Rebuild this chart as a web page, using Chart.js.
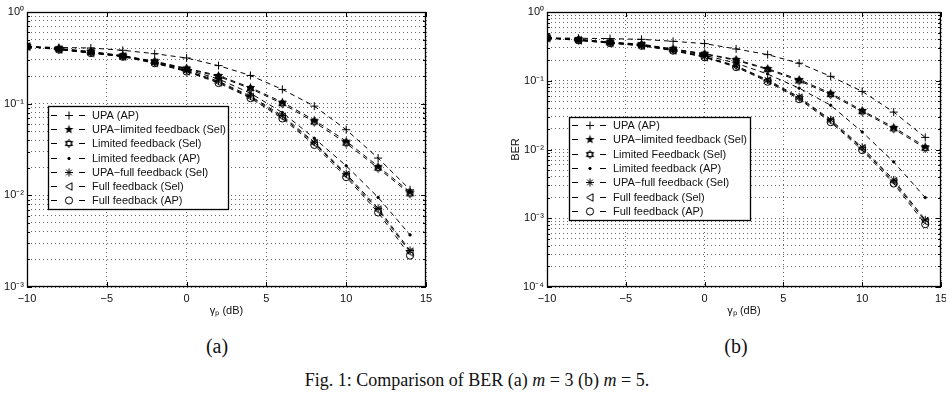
<!DOCTYPE html>
<html>
<head>
<meta charset="utf-8">
<script src="https://cdn.jsdelivr.net/npm/chart.js@4.4.0/dist/chart.umd.min.js"></script>
<style>
  body { margin: 0; background: #fff; width: 946px; height: 406px; overflow: hidden; position: relative; }
  #cajaA { position: absolute; left: 0; top: 0; width: 440px; height: 330px; }
  #cajaB { position: absolute; left: 480px; top: 0; width: 466px; height: 330px; }
  .subtitulo { position: absolute; font-family: "Liberation Serif", serif; font-size: 20px; color: #111; transform: translate(-50%, -50%); }
  #pie { position: absolute; left: 477px; top: 380px; transform: translate(-50%, -50%); font-family: "Liberation Serif", serif; font-size: 18px; color: #111; white-space: nowrap; }
</style>
</head>
<body>
<div id="cajaA"><canvas id="graficaA" width="440" height="330"></canvas></div>
<div id="cajaB"><canvas id="graficaB" width="466" height="330"></canvas></div>
<div class="subtitulo" style="left:217px; top:346px;">(a)</div>
<div class="subtitulo" style="left:736px; top:346px;">(b)</div>
<div id="pie">Fig. 1: Comparison of BER (a) <i>m</i> = 3 (b) <i>m</i> = 5.</div>

<script>
// =========================
//   Datos
// =========================
const gammaDb = [-10, -8, -6, -4, -2, 0, 2, 4, 6, 8, 10, 12, 14];
const xTicks = [-10, -5, 0, 5, 10, 15];
const decadasA = [1e-3, 1e-2, 1e-1, 1];
const decadasB = [1e-4, 1e-3, 1e-2, 1e-1, 1];

const etiquetasA = ["UPA (AP)", "UPA\u2212limited feedback (Sel)", "Limited feedback (Sel)", "Limited feedback (AP)",
    "UPA\u2212full feedback (Sel)", "Full feedback (Sel)", "Full feedback (AP)"];
const etiquetasB = ["UPA (AP)", "UPA\u2212limited feedback (Sel)", "Limited Feedback (Sel)", "Limited feedback (AP)",
    "UPA\u2212full feedback (Sel)", "Full feedback (Sel)", "Full feedback (AP)"];

// (a) m = 3
const upaApA      = [0.42, 0.41, 0.405, 0.382, 0.351, 0.315, 0.26, 0.203, 0.143, 0.094, 0.052, 0.0255, 0.0115];
const upaLimSelA  = [0.42, 0.40, 0.37, 0.335, 0.29, 0.243, 0.203, 0.15, 0.104, 0.066, 0.039, 0.0207, 0.0109];
const limSelA     = [0.42, 0.398, 0.367, 0.332, 0.287, 0.24, 0.198, 0.146, 0.1, 0.063, 0.037, 0.0198, 0.0104];
const limApA      = [0.42, 0.396, 0.364, 0.33, 0.284, 0.236, 0.186, 0.13, 0.08, 0.042, 0.021, 0.0095, 0.0037];
const upaFullSelA = [0.42, 0.392, 0.36, 0.33, 0.282, 0.23, 0.176, 0.121, 0.074, 0.038, 0.0172, 0.0072, 0.0025];
const fullSelA    = [0.42, 0.39, 0.358, 0.328, 0.279, 0.227, 0.172, 0.118, 0.0716, 0.037, 0.0166, 0.0069, 0.0024];
const fullApA     = [0.42, 0.388, 0.356, 0.325, 0.276, 0.224, 0.168, 0.115, 0.069, 0.0355, 0.0158, 0.0065, 0.0022];

// (b) m = 5
const upaApB      = [0.42, 0.415, 0.41, 0.40, 0.375, 0.347, 0.29, 0.24, 0.18, 0.116, 0.07, 0.035, 0.015];
const upaLimSelB  = [0.42, 0.40, 0.366, 0.34, 0.29, 0.248, 0.203, 0.15, 0.104, 0.066, 0.037, 0.021, 0.011];
const limSelB     = [0.42, 0.398, 0.362, 0.336, 0.286, 0.244, 0.198, 0.146, 0.1, 0.063, 0.0355, 0.02, 0.0104];
const limApB      = [0.42, 0.395, 0.36, 0.33, 0.283, 0.235, 0.18, 0.125, 0.078, 0.044, 0.018, 0.0066, 0.002];
const upaFullSelB = [0.42, 0.39, 0.357, 0.327, 0.28, 0.225, 0.165, 0.103, 0.058, 0.027, 0.0108, 0.0036, 0.00095];
const fullSelB    = [0.42, 0.388, 0.355, 0.325, 0.277, 0.222, 0.162, 0.1, 0.056, 0.026, 0.0103, 0.0034, 0.0009];
const fullApB     = [0.42, 0.386, 0.352, 0.322, 0.274, 0.219, 0.158, 0.097, 0.054, 0.025, 0.0098, 0.0032, 0.00082];

const FUENTE = "Liberation Sans";

// =========================
//   Marcadores
// =========================
function marcaCanvas(dibujar, tam) {
    const c = document.createElement("canvas");
    c.width = tam;
    c.height = tam;
    const g = c.getContext("2d");
    g.strokeStyle = "#000";
    g.fillStyle = "#000";
    g.lineWidth = 1;
    dibujar(g, tam / 2);
    return c;
}

const estrellaRellena = marcaCanvas((g, m) => {
    g.beginPath();
    for (let k = 0; k < 10; k++) {
        const r = k % 2 === 0 ? 4.8 : 2.0;
        const a = -Math.PI / 2 + k * Math.PI / 5;
        g.lineTo(m + r * Math.cos(a), m + r * Math.sin(a));
    }
    g.closePath();
    g.fill();
}, 11);

const hexagrama = marcaCanvas((g, m) => {
    [-Math.PI / 2, Math.PI / 2].forEach(rot => {
        g.beginPath();
        for (let k = 0; k < 3; k++) {
            const a = rot + k * 2 * Math.PI / 3;
            g.lineTo(m + 4.2 * Math.cos(a), m + 4.2 * Math.sin(a));
        }
        g.closePath();
        g.stroke();
    });
}, 11);

const trianguloIzq = marcaCanvas((g, m) => {
    g.beginPath();
    g.moveTo(m - 3.5, m);
    g.lineTo(m + 3, m - 3.8);
    g.lineTo(m + 3, m + 3.8);
    g.closePath();
    g.stroke();
}, 11);

const estilos = [
    { pointStyle: "cross", pointRadius: 4 },
    { pointStyle: estrellaRellena, pointRadius: 4 },
    { pointStyle: hexagrama, pointRadius: 4 },
    { pointStyle: "circle", pointRadius: 1.2, pointBackgroundColor: "#000" },
    { pointStyle: "star", pointRadius: 4 },
    { pointStyle: trianguloIzq, pointRadius: 4 },
    { pointStyle: "circle", pointRadius: 3.6 }
];

function construirDatasets(series, etiquetas) {
    return series.map((valores, i) => Object.assign({
        label: etiquetas[i],
        data: gammaDb.map((x, j) => ({ x: x, y: valores[j] })),
        borderColor: "#000",
        borderWidth: 1,
        borderDash: [5, 4],
        pointBorderColor: "#000",
        pointBackgroundColor: "rgba(0,0,0,0)",
        pointBorderWidth: 1,
        fill: false,
        tension: 0
    }, estilos[i]));
}

// =========================
//   Escalas
// =========================
const superindices = { "0": "\u2070", "1": "\u00B9", "2": "\u00B2", "3": "\u00B3", "4": "\u2074", "-": "\u207B" };

function esDecada(v) {
    const e = Math.log10(v);
    return Math.abs(e - Math.round(e)) < 1e-9;
}

function etiquetaDecada(v) {
    if (!esDecada(v)) return "";
    const e = String(Math.round(Math.log10(v)));
    return "10" + e.split("").map(c => superindices[c]).join("");
}

function ticksLog(decadas) {
    const lista = [];
    for (let i = 0; i < decadas.length - 1; i++) {
        for (let k = 1; k < 10; k++) lista.push(decadas[i] * k);
    }
    lista.push(decadas[decadas.length - 1]);
    return lista;
}

function configEscalas(decadas, tituloY, anchoY) {
    return {
        x: {
            type: "linear",
            min: -10,
            max: 15,
            afterBuildTicks: s => { s.ticks = xTicks.map(v => ({ value: v })); },
            afterFit: s => { s.height = 43; s.paddingLeft = 0; s.paddingRight = 0; },
            ticks: {
                autoSkip: false, maxRotation: 0, padding: 5, color: "#111",
                font: { family: FUENTE, size: 11 },
                callback: v => String(v).replace("-", "\u2212")
            },
            grid: { color: "rgba(0,0,0,0.6)", lineWidth: 1, drawTicks: false },
            border: { display: false, dash: [1, 3] },
            title: { display: true, text: "\u03B3\u209A (dB)", color: "#111", font: { family: FUENTE, size: 11 }, padding: { top: 2, bottom: 12 } }
        },
        y: {
            type: "logarithmic",
            min: decadas[0],
            max: decadas[decadas.length - 1],
            afterBuildTicks: s => { s.ticks = ticksLog(decadas).map(v => ({ value: v })); },
            afterFit: s => { s.width = anchoY; s.paddingTop = 0; s.paddingBottom = 0; },
            ticks: {
                autoSkip: false, padding: 3, color: "#111",
                font: { family: FUENTE, size: 11 },
                callback: v => etiquetaDecada(v)
            },
            grid: { color: "rgba(0,0,0,0.6)", lineWidth: 1, drawTicks: false },
            border: { display: false, dash: [1, 3] },
            title: { display: !!tituloY, text: tituloY, color: "#111", font: { family: FUENTE, size: 11 }, padding: { top: 29, bottom: 0 } }
        }
    };
}

// =========================
//   Marco y leyenda estilo Matlab
// =========================
const marcoMatlab = {
    id: "marcoMatlab",
    afterDraw(chart, args, opts) {
        const ctx = chart.ctx;
        const { left, top, right, bottom } = chart.chartArea;
        const ys = chart.scales.y;
        const xs = chart.scales.x;
        ctx.save();
        ctx.setLineDash([]);
        ctx.strokeStyle = "#000";
        ctx.lineWidth = 1;

        // ticks internos
        ctx.beginPath();
        ys.ticks.forEach(t => {
            const py = Math.round(ys.getPixelForValue(t.value)) + 0.5;
            const largo = esDecada(t.value) ? 5 : 3;
            ctx.moveTo(left, py); ctx.lineTo(left + largo, py);
            ctx.moveTo(right, py); ctx.lineTo(right - largo, py);
        });
        xs.ticks.forEach(t => {
            const px = Math.round(xs.getPixelForValue(t.value)) + 0.5;
            ctx.moveTo(px, bottom); ctx.lineTo(px, bottom - 5);
            ctx.moveTo(px, top); ctx.lineTo(px, top + 5);
        });
        ctx.stroke();

        ctx.lineWidth = 1.3;
        ctx.strokeRect(left + 0.5, top + 0.5, right - left - 1, bottom - top - 1);

        // leyenda
        const L = opts.leyenda;
        ctx.fillStyle = "#fff";
        ctx.fillRect(L.x, L.y, L.w, L.h);
        ctx.lineWidth = 1.3;
        ctx.strokeRect(L.x + 0.5, L.y + 0.5, L.w, L.h);

        ctx.font = "11px " + FUENTE;
        ctx.textBaseline = "middle";
        ctx.textAlign = "left";
        chart.data.datasets.forEach((ds, i) => {
            const cy = Math.round(L.y + L.primera + i * L.paso) + 0.5;
            ctx.lineWidth = 1;
            ctx.strokeStyle = "#000";
            ctx.beginPath();
            ctx.moveTo(L.x + 3, cy); ctx.lineTo(L.x + 9, cy);
            ctx.moveTo(L.x + 31, cy); ctx.lineTo(L.x + 37, cy);
            ctx.stroke();
            ctx.fillStyle = ds.pointBackgroundColor;
            Chart.helpers.drawPoint(ctx, { pointStyle: ds.pointStyle, radius: ds.pointRadius, borderWidth: 1, rotation: 0 }, L.x + 21, cy);
            ctx.fillStyle = "#111";
            ctx.fillText(ds.label, L.x + 44, cy);
        });
        ctx.restore();
    }
};

function crearGrafica(idCanvas, series, etiquetas, decadas, tituloY, anchoY, padding, leyenda) {
    return new Chart(document.getElementById(idCanvas), {
        type: "line",
        data: { datasets: construirDatasets(series, etiquetas) },
        options: {
            responsive: false,
            animation: false,
            layout: { padding: padding },
            scales: configEscalas(decadas, tituloY, anchoY),
            plugins: {
                legend: { display: false },
                tooltip: { enabled: false },
                marcoMatlab: { leyenda: leyenda }
            }
        },
        plugins: [marcoMatlab]
    });
}

crearGrafica("graficaA",
    [upaApA, upaLimSelA, limSelA, limApA, upaFullSelA, fullSelA, fullApA],
    etiquetasA, decadasA, "", 27,
    { top: 12, right: 14, left: 0, bottom: 0 },
    { x: 48, y: 106, w: 180, h: 103, primera: 9, paso: 14.17 });

crearGrafica("graficaB",
    [upaApB, upaLimSelB, limSelB, limApB, upaFullSelB, fullSelB, fullApB],
    etiquetasB, decadasB, "BER", 67,
    { top: 12, right: 1, left: 0, bottom: 0 },
    { x: 89, y: 117, w: 181, h: 103, primera: 8, paso: 14.3 });
</script>
</body>
</html>
